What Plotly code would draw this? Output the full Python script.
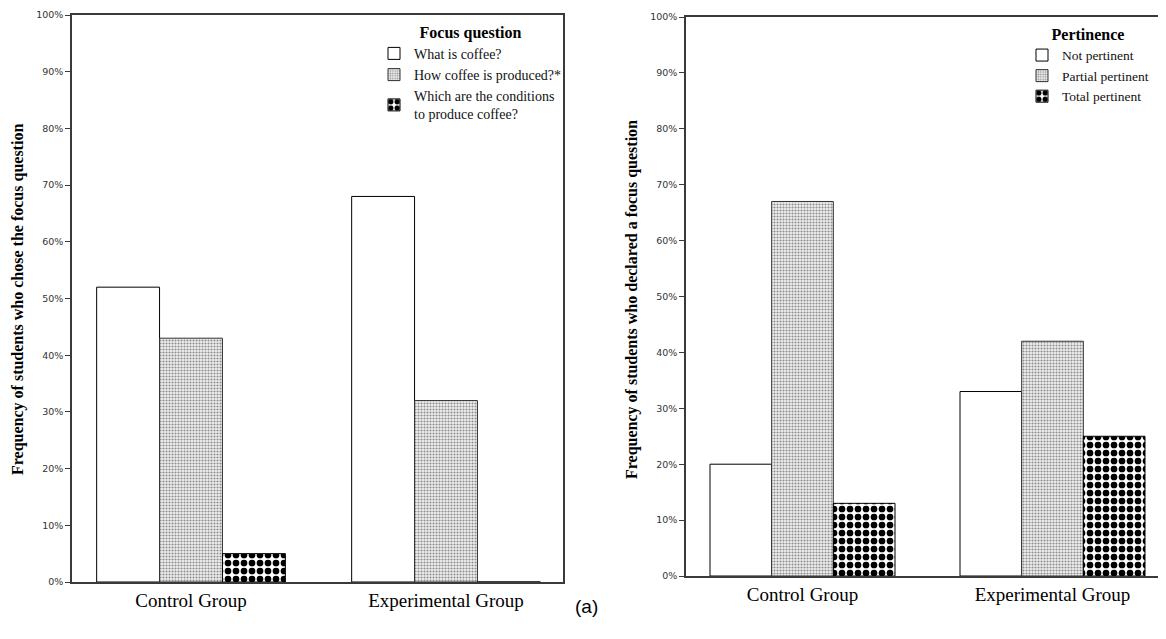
import plotly.graph_objects as go

W, H = 1166, 639
OFF = 8  # page body margin
FW, FH = W - OFF, H - OFF

groups = ["Control Group", "Experimental Group"]

# Left chart: focus question chosen
focus_labels = ["What is coffee?", "How coffee is produced?*",
                "Which are the conditions<br>to produce coffee?"]
focus_values = [
    [52, 68],   # What is coffee?
    [43, 32],   # How coffee is produced?
    [5, 0],     # Which are the conditions...
]

# Right chart: pertinence
pert_labels = ["Not pertinent", "Partial pertinent", "Total pertinent"]
pert_values = [
    [20, 33],
    [67, 42],
    [13, 25],
]

yticks = [0, 10, 20, 30, 40, 50, 60, 70, 80, 90, 100]
ytick_text = [f"{v}%" for v in yticks]

SERIF = "Liberation Serif"
SANS = "DejaVu Sans"

styles = [
    dict(color="white", line=dict(color="black", width=1)),
    dict(color="#e8e8e8", line=dict(color="#333", width=1),
         pattern=dict(shape=".", fgcolor="#8c8c8c", bgcolor="#f0f0f0", size=3,
                      solidity=0.4, fgopacity=1)),
    dict(color="white", line=dict(color="black", width=1),
         pattern=dict(shape=".", fgcolor="black", bgcolor="white", size=8,
                      solidity=0.55, fgopacity=1)),
]

fig = go.Figure()
xs = [0, 1]
for i, (lab, vals) in enumerate(zip(focus_labels, focus_values)):
    fig.add_trace(go.Bar(x=xs, y=vals, name=lab, marker=styles[i],
                         xaxis="x", yaxis="y", legend="legend", offsetgroup=str(i),
                         hoverinfo="skip"))
for i, (lab, vals) in enumerate(zip(pert_labels, pert_values)):
    fig.add_trace(go.Bar(x=xs, y=vals, name=lab, marker=styles[i],
                         xaxis="x2", yaxis="y2", legend="legend2", offsetgroup=str(i),
                         hoverinfo="skip"))

def px_x(p):
    return (p - OFF) / FW

def px_y(p):
    return 1 - (p - OFF) / FH

axis_common = dict(showline=True, linecolor="#3a3a3a", linewidth=1.5, mirror=True,
                   showgrid=False, zeroline=False, automargin=False)

fig.update_layout(
    template="none",
    width=FW, height=FH,
    margin=dict(l=0, r=0, t=0, b=0, autoexpand=False),
    paper_bgcolor="white", plot_bgcolor="white",
    barmode="group", bargap=0.26, bargroupgap=0,
    showlegend=True,
    xaxis=dict(domain=[px_x(72), px_x(563)], range=[-0.4667, 1.4588],
               tickvals=xs, ticktext=groups, ticks="",
               tickfont=dict(family=SERIF, size=19, color="black"),
               anchor="y", **axis_common),
    yaxis=dict(domain=[px_y(582), px_y(15)], range=[0, 100],
               tickvals=yticks, ticktext=ytick_text, ticks="outside", ticklen=5,
               tickcolor="#3a3a3a", tickfont=dict(family=SANS, size=9.5, color="#333"),
               anchor="x", **axis_common),
    xaxis2=dict(domain=[px_x(686), 1.0], range=[-0.466, 1.454],
                tickvals=xs, ticktext=groups, ticks="",
                tickfont=dict(family=SERIF, size=19, color="black"),
                anchor="y2", **axis_common),
    yaxis2=dict(domain=[px_y(576), px_y(17)], range=[0, 100],
                tickvals=yticks, ticktext=ytick_text, ticks="outside", ticklen=5,
                tickcolor="#3a3a3a", tickfont=dict(family=SANS, size=9.5, color="#333"),
                anchor="x2", **axis_common),
    legend=dict(x=px_x(374), y=px_y(17), xanchor="left", yanchor="top",
                title=dict(text="<b>Focus question</b>", side="top center",
                           font=dict(family=SERIF, size=16, color="black")),
                font=dict(family=SERIF, size=14, color="#111"),
                bgcolor="rgba(0,0,0,0)", itemwidth=30, tracegroupgap=0,
                itemclick=False, itemdoubleclick=False),
    legend2=dict(x=px_x(1022), y=px_y(19), xanchor="left", yanchor="top",
                 title=dict(text="<b>Pertinence</b>", side="top center",
                            font=dict(family=SERIF, size=16, color="black")),
                 font=dict(family=SERIF, size=13.5, color="#111"),
                 bgcolor="rgba(0,0,0,0)", itemwidth=30, tracegroupgap=0,
                 itemclick=False, itemdoubleclick=False),
    annotations=[
        dict(text="<b>Frequency of students who chose the focus question</b>",
             x=px_x(18), y=px_y(300), xref="paper", yref="paper", showarrow=False,
             xanchor="center", yanchor="middle",
             textangle=-90, font=dict(family=SERIF, size=16, color="black")),
        dict(text="<b>Frequency of students who declared a focus question</b>",
             x=px_x(632), y=px_y(300), xref="paper", yref="paper", showarrow=False,
             xanchor="center", yanchor="middle",
             textangle=-90, font=dict(family=SERIF, size=16, color="black")),
        dict(text="(a)", x=px_x(586), y=px_y(606), xref="paper", yref="paper",
             xanchor="center", yanchor="middle",
             showarrow=False, font=dict(family="Liberation Sans", size=19, color="black")),
    ],
)

fig.write_html("out.html")
